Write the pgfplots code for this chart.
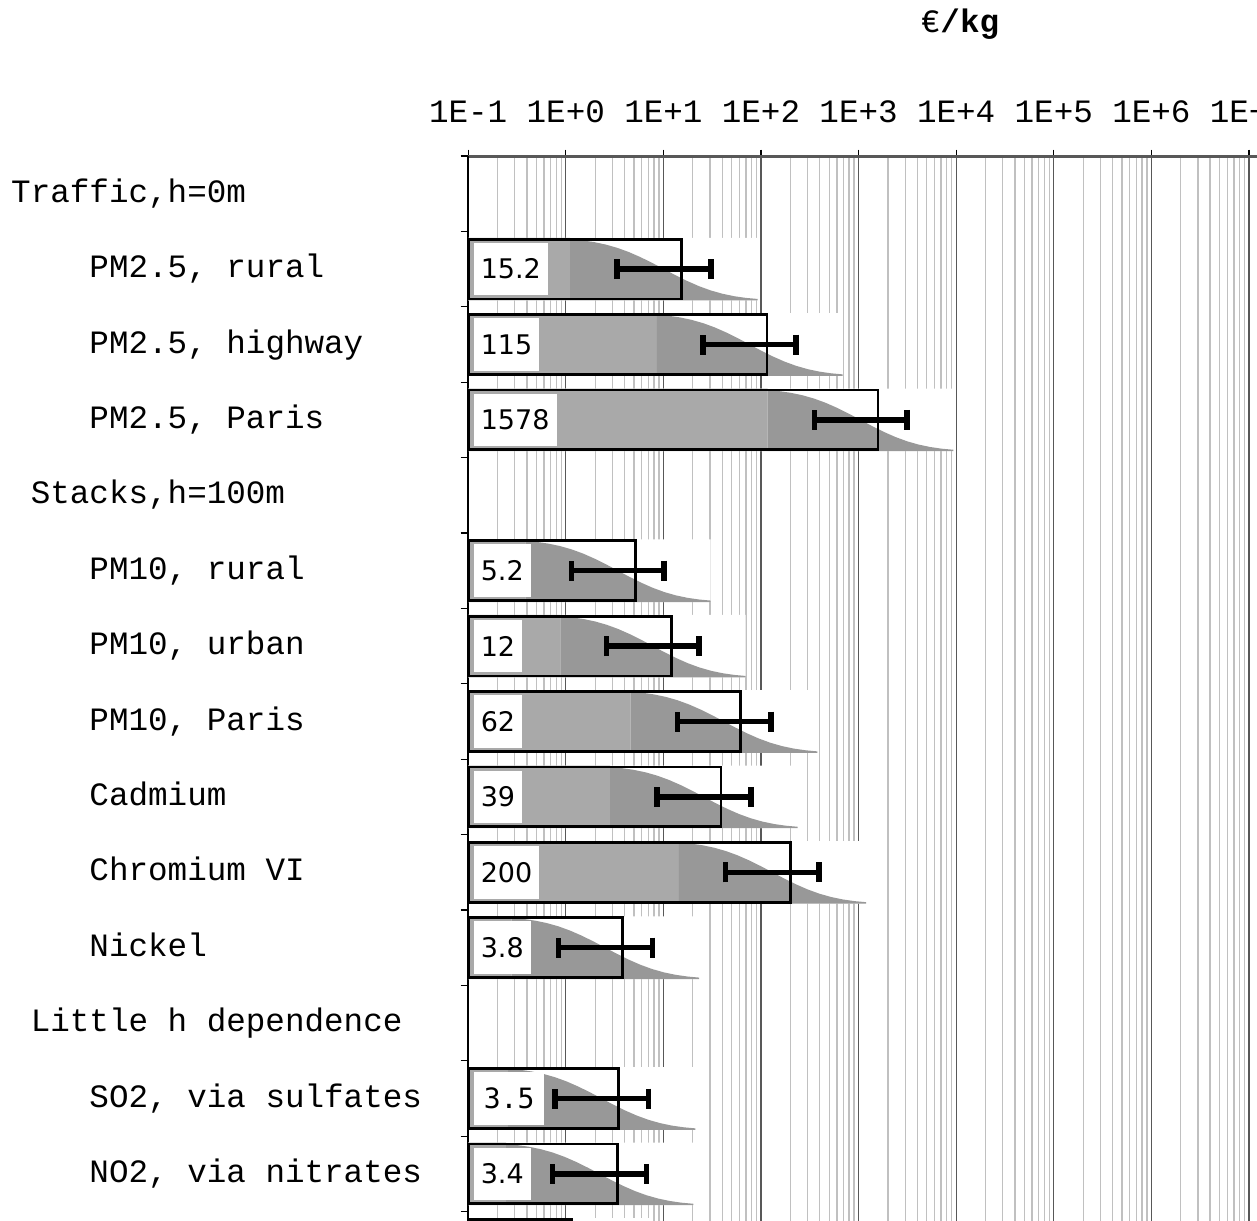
\documentclass[border=0pt]{standalone}
\usepackage{fontspec}
\usepackage{pgfplots}
\usepackage{pgfplotstable}
\pgfplotsset{compat=1.18}
\newfontfamily\monof{Liberation Mono}
\newfontfamily\sansf{DejaVu Sans}
\newfontfamily\dmonof{DejaVu Sans Mono}
\definecolor{lightg}{HTML}{A9A9A9}
\definecolor{darkg}{HTML}{989898}
\definecolor{gridmaj}{HTML}{585858}
\definecolor{gridmin}{HTML}{C0C0C0}

% row, mean value, median, error bar ends, start/end of the distribution shading
\pgfplotstableread{
row value med lo hi ds de
1 15.2 10.1 3.35 30.8 1.11 92.5
2 115 76.6 25.6 229 8.55 686
3 1578 1047 352 3140 117 9380
5 5.2 3.43 1.15 10.2 0.385 30.5
6 12 7.83 2.62 23.3 0.88 69.8
7 62 41.8 13.9 126 4.62 378
8 39 26.0 8.6 78.9 2.85 237
9 200 131 43.4 395 14.4 1194
10 3.8 2.54 0.838 7.69 0.279 23.2
12 3.5 2.34 0.774 7.06 0.256 21.3
13 3.4 2.23 0.735 6.75 0.244 20.3
14 1.16 0.776 0.257 2.34 0.085 7.08
}\dat

% shape of the shaded distribution (fraction of bar height along the shaded span)
\pgfplotstableread{
u f
0 0
0 0.977
0.0625 0.960
0.125 0.933
0.1875 0.894
0.25 0.841
0.3125 0.773
0.375 0.691
0.4375 0.599
0.5 0.5
0.5625 0.401
0.625 0.309
0.6875 0.227
0.75 0.159
0.8125 0.106
0.875 0.067
0.9375 0.040
1 0.023
1 0
}\shape

\begin{document}
\begin{tikzpicture}
\begin{axis}[
  at={(0,0)}, anchor=north west,
  scale only axis, width=800.3pt, height=1206.4pt,
  xmode=log, log origin x=infty,
  xmin=0.1, xmax=1.585e7,
  ymin=-0.5, ymax=15.5, y dir=reverse,
  axis x line*=top, axis y line*=left,
  x axis line style={draw=gridmaj, line width=3pt, -},
  y axis line style={draw=black, line width=2pt, -},
  xtick={0.1,1,10,100,1000,10000,100000,1000000,10000000},
  xticklabels={1E-1,1E+0,1E+1,1E+2,1E+3,1E+4,1E+5,1E+6,1E+7},
  minor xtick={2e-1,3e-1,4e-1,5e-1,6e-1,7e-1,8e-1,9e-1,
    2,3,4,5,6,7,8,9,
    2e1,3e1,4e1,5e1,6e1,7e1,8e1,9e1,
    2e2,3e2,4e2,5e2,6e2,7e2,8e2,9e2,
    2e3,3e3,4e3,5e3,6e3,7e3,8e3,9e3,
    2e4,3e4,4e4,5e4,6e4,7e4,8e4,9e4,
    2e5,3e5,4e5,5e5,6e5,7e5,8e5,9e5,
    2e6,3e6,4e6,5e6,6e6,7e6,8e6,9e6},
  xmajorgrids, xminorgrids,
  major x grid style={draw=gridmaj, line width=1.3pt},
  minor x grid style={draw=gridmin, line width=1.3pt},
  tick align=outside,
  major tick length=6.5pt, minor tick length=7.6pt,
  major x tick style={draw=black, line width=1.3pt},
  minor x tick style={draw=none},
  major y tick style={draw=none},
  minor y tick style={draw=black, line width=1.3pt},
  ytick={0,...,13},
  minor ytick={-0.5,0.5,...,15.5},
  yticklabels={{Traffic,h=0m},{~~~~PM2.5, rural},{~~~~PM2.5, highway},{~~~~PM2.5, Paris},
    {~Stacks,h=100m},{~~~~PM10, rural},{~~~~PM10, urban},{~~~~PM10, Paris},
    {~~~~Cadmium},{~~~~Chromium VI},{~~~~Nickel},{~Little h dependence},
    {~~~~SO2, via sulfates},{~~~~NO2, via nitrates}},
  xticklabel style={font=\monof\fontsize{32.6}{32.6}\selectfont, anchor=base, inner sep=0pt, yshift=27pt},
  yticklabel style={font=\monof\fontsize{32.6}{32.6}\selectfont, anchor=base west, inner sep=0pt, xshift=-450.7pt, yshift=-8.5pt},
]
% white background behind each distribution
\addplot[xbar, bar width=0.83, bar shift=0pt, fill=white, draw=none] table[x=de, y=row]{\dat};
% light grey part
\addplot[xbar, bar width=0.83, bar shift=0pt, fill=lightg, draw=none] table[x=ds, y=row]{\dat};
% dark grey distribution shapes
\pgfplotsinvokeforeach{0,...,11}{
  \pgfplotstablegetelem{#1}{row}\of\dat \let\rr\pgfplotsretval
  \pgfplotstablegetelem{#1}{ds}\of\dat \let\dss\pgfplotsretval
  \pgfplotstablegetelem{#1}{de}\of\dat \let\dee\pgfplotsretval
  \addplot[fill=darkg, draw=none] table[x expr={\dss*(\dee/\dss)^(\thisrow{u})}, y expr={\rr+0.415-0.83*\thisrow{f}}]{\shape} -- cycle;
}
% bar outlines (mean value)
\addplot[xbar, bar width=0.795, bar shift=0pt, fill=none, draw=black, line width=2.8pt] table[x=value, y=row]{\dat};
% value labels
\addplot[only marks, mark=none, point meta=explicit symbolic, nodes near coords,
  every node near coord/.append style={anchor=west, xshift=5.4pt, fill=white, text=black,
    inner xsep=7pt, inner ysep=0pt, minimum height=52.7pt, font=\sansf\fontsize{27}{27}\selectfont},
  y filter/.expression={(\thisrow{row}==12 || \thisrow{row}==14) ? nan : \thisrow{row}}]
  table[x expr=0.1, y=row, meta=value]{\dat};
\addplot[only marks, mark=none, point meta=explicit symbolic, nodes near coords,
  every node near coord/.append style={anchor=west, xshift=5.4pt, fill=white, text=black,
    inner xsep=10pt, inner ysep=0pt, minimum height=52.7pt, font=\dmonof\fontsize{28}{28}\selectfont}]
  table[x expr=0.1, y=row, meta=value]{
row value
12 3.5
};
% error bars
\addplot[only marks, mark=none, black,
  error bars/.cd, x dir=both, x explicit, error mark=|,
  error bar style={line width=5.5pt, black},
  error mark options={line width=5.5pt, mark size=10pt, black}]
  table[x=med, y=row, x error minus expr=\thisrow{med}-\thisrow{lo}, x error plus expr=\thisrow{hi}-\thisrow{med}]{\dat};
\end{axis}
\node[anchor=base, inner sep=0pt] at (491.8pt,123.5pt) {\monof\fontsize{32.6}{32.6}\selectfont €\bfseries/kg};
\pgfresetboundingbox
\path[use as bounding box] (-468.2pt,156pt) rectangle (788.8pt,-1064pt);
\end{tikzpicture}
\end{document}
